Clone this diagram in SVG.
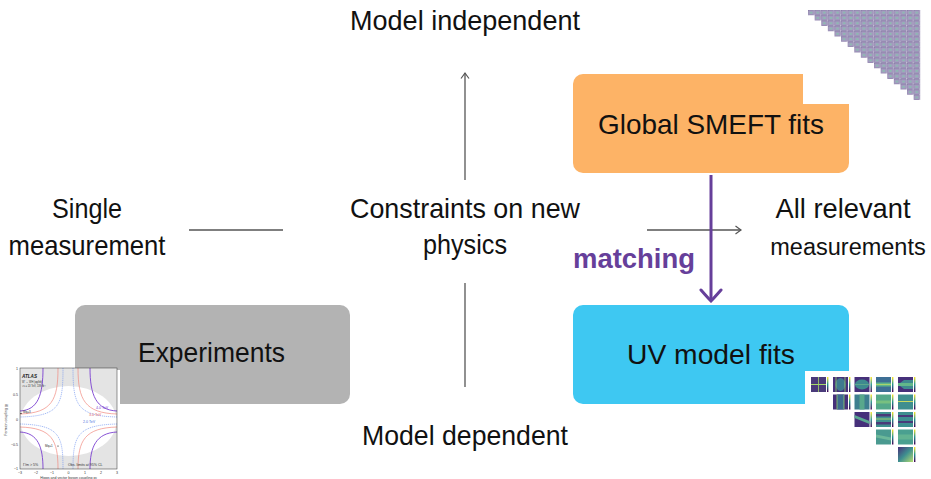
<svg xmlns="http://www.w3.org/2000/svg" width="931" height="479" viewBox="0 0 931 479">
<style>
.t{font-family:"Liberation Sans",Arial,sans-serif;font-size:28px;fill:#111;text-anchor:middle}
.m{font-family:"Liberation Sans",Arial,sans-serif;font-size:27.5px;font-weight:bold;fill:#663f9a}
.gl{stroke:#555;stroke-width:1.3;fill:none}
.s{font-family:"Liberation Sans",Arial,sans-serif;font-size:3.6px;fill:#333}
</style>
<defs>
<marker id="ah" viewBox="-7 -6 9 12" markerWidth="9" markerHeight="12" refX="0" refY="0" orient="auto" markerUnits="userSpaceOnUse">
<path d="M-5.5,-4 Q-1.5,-1 0,0 Q-1.5,1 -5.5,4" fill="none" stroke="#555" stroke-width="1.2"/>
</marker>
<marker id="ph" viewBox="-14 -13 16 26" markerWidth="16" markerHeight="26" refX="0" refY="0" orient="auto" markerUnits="userSpaceOnUse">
<path d="M-11,-10 Q-3,-3 0,0 Q-3,3 -11,10" fill="none" stroke="#663f9a" stroke-width="3" stroke-linecap="round"/>
</marker>
<pattern id="tri" patternUnits="userSpaceOnUse" x="808" y="10" width="6.6" height="5.3">
<rect x="0.5" y="0.4" width="5.4" height="4.5" fill="#a49cc0" stroke="#7d6fa0" stroke-width="0.6"/>
<rect x="2.1" y="1.7" width="2.2" height="1.9" fill="#8cbcb0"/>
</pattern>
<linearGradient id="cb" x1="0" y1="1" x2="0" y2="0">
<stop offset="0" stop-color="#440154"/><stop offset="0.5" stop-color="#21918c"/><stop offset="1" stop-color="#fde725"/>
</linearGradient>
<linearGradient id="g44" x1="0" y1="0" x2="1" y2="1">
<stop offset="0" stop-color="#46307a"/><stop offset="0.5" stop-color="#3f8f90"/><stop offset="1" stop-color="#b5dd70"/>
</linearGradient>
<clipPath id="pc"><rect x="20" y="368" width="97" height="101"/></clipPath>
</defs>

<g id="experiments">
<rect x="75" y="305" width="275" height="99" rx="10" fill="#b3b3b3"/>
<text class="t" x="211.5" y="362" textLength="147" lengthAdjust="spacingAndGlyphs">Experiments</text>
</g>

<g id="smeft">
<rect x="573" y="74" width="276" height="99" rx="10" fill="#fdb366"/>
<text class="t" x="711" y="134" textLength="226" lengthAdjust="spacingAndGlyphs">Global SMEFT fits</text>
</g>

<g id="uvfits">
<rect x="573" y="305" width="276" height="99" rx="10" fill="#3ec8f2"/>
<text class="t" x="711" y="364" textLength="168" lengthAdjust="spacingAndGlyphs">UV model fits</text>
</g>

<g id="connectors">
<line class="gl" x1="465" y1="180" x2="465" y2="73" marker-end="url(#ah)"/>
<line class="gl" x1="465" y1="283" x2="465" y2="387"/>
<line class="gl" x1="189" y1="230" x2="283" y2="230"/>
<line class="gl" x1="647" y1="230" x2="741" y2="230" marker-end="url(#ah)"/>
<line x1="711" y1="175" x2="711" y2="301" stroke="#663f9a" stroke-width="3" marker-end="url(#ph)"/>
<text class="m" x="573" y="268" textLength="122" lengthAdjust="spacingAndGlyphs">matching</text>
</g>

<g id="labels">
<text class="t" x="465" y="30" textLength="230" lengthAdjust="spacingAndGlyphs">Model independent</text>
<text class="t" x="465" y="445" textLength="206" lengthAdjust="spacingAndGlyphs">Model dependent</text>
<text class="t" x="87" y="218" textLength="70" lengthAdjust="spacingAndGlyphs">Single</text>
<text class="t" x="87" y="255" textLength="157" lengthAdjust="spacingAndGlyphs">measurement</text>
<text class="t" x="465" y="218" textLength="230" lengthAdjust="spacingAndGlyphs">Constraints on new</text>
<text class="t" x="465" y="254" textLength="84" lengthAdjust="spacingAndGlyphs">physics</text>
<text class="t" x="843" y="218" textLength="135" lengthAdjust="spacingAndGlyphs">All relevant</text>
<text class="t" x="848" y="255" style="font-size:23.5px">measurements</text>
</g>

<g id="triangle-matrix">
<rect x="803" y="0" width="128" height="104" fill="#fff"/>
<path d="M808,10 H920.2 V100.1 H913.6 V94.8 H907 V89.5 H900.4 V84.2 H893.8 V78.9 H887.2 V73.6 H880.6 V68.3 H874 V63 H867.4 V57.7 H860.8 V52.4 H854.2 V47.1 H847.6 V41.8 H841 V36.5 H834.4 V31.2 H827.8 V25.9 H821.2 V20.6 H814.6 V15.3 H808 Z" fill="url(#tri)"/>
</g>

<g id="limit-plot">
<rect x="0" y="370" width="120" height="109" fill="#fff"/>
<rect x="20" y="368" width="97" height="101" fill="#e4e4e4"/>
<ellipse cx="68.5" cy="421" rx="48" ry="35" fill="#fff" clip-path="url(#pc)"/>
<g clip-path="url(#pc)" fill="none">
<g stroke="#7b3fd0" stroke-width="0.9">
<path d="M43,368 C43,395 38,410 20,411"/><path d="M90,368 C90,395 96,410 117,411"/>
<path d="M20,432 C38,433 43,447 43,469"/><path d="M117,432 C96,433 90,447 90,469"/>
</g>
<g stroke="#f08a80" stroke-width="0.7">
<path d="M58,368 C58,400 52,413 20,414"/><path d="M78,368 C78,400 85,413 117,414"/>
<path d="M20,427 C52,428 58,440 58,469"/><path d="M117,427 C85,428 78,440 78,469"/>
</g>
<g stroke="#6a8ff0" stroke-width="0.6" stroke-dasharray="1.2,0.8">
<path d="M63,368 C63,405 60,416 20,417"/><path d="M73,368 C73,405 77,416 117,417"/>
<path d="M20,424 C60,425 63,436 63,469"/><path d="M117,424 C77,425 73,436 73,469"/>
</g>
</g>
<rect x="20" y="368" width="97" height="101" fill="none" stroke="#333" stroke-width="0.5"/>
<text x="22" y="378" font-family="Liberation Sans,Arial,sans-serif" font-size="4.6" font-weight="bold" font-style="italic" fill="#222">ATLAS</text>
<text class="s" x="22" y="383" style="font-size:2.6px">W' → WH (qq/bb)</text>
<text class="s" x="22" y="387" style="font-size:2.6px">√s = 13 TeV, 139 fb⁻¹</text>
<text class="s" x="96" y="409" style="fill:#7b3fd0">4.0 TeV</text>
<text class="s" x="89" y="416" style="fill:#e06060">3.0 TeV</text>
<text class="s" x="83" y="423" style="fill:#4a6fe0">2.0 TeV</text>
<text class="s" x="23" y="413" style="font-size:3px">Mq=3</text>
<circle cx="21" cy="413.5" r="0.6" fill="#000"/>
<text class="s" x="45" y="447" style="font-size:3px">Mq=1</text>
<circle cx="58" cy="446" r="0.6" fill="#000"/>
<text class="s" x="23" y="466">Γ/m &gt; 5%</text>
<text class="s" x="68" y="466">Obs. limits at 95% CL</text>
<g class="s" text-anchor="end">
<text x="18" y="370">1</text><text x="18" y="396">0.5</text><text x="18" y="421">0</text><text x="18" y="446">−0.5</text><text x="18" y="470">−1</text>
</g>
<g class="s" text-anchor="middle">
<text x="20" y="474">−3</text><text x="36" y="474">−2</text><text x="52" y="474">−1</text><text x="68.5" y="474">0</text><text x="85" y="474">1</text><text x="101" y="474">2</text><text x="117" y="474">3</text>
</g>
<text class="s" x="68.5" y="478.5" text-anchor="middle">Higgs and vector boson coupling g<tspan style="font-size:2.6px" dy="0.8">v</tspan></text>
<text class="s" x="7" y="420" text-anchor="middle" transform="rotate(-90 7 420)">Fermion coupling g<tspan style="font-size:2.6px" dy="0.8">f</tspan></text>
</g>

<g id="fit-grid">
<rect x="805" y="371" width="126" height="108" fill="#fff"/>
<g transform="translate(811,377)">
<rect width="15" height="15" fill="#4a3a7a"/><line x1="0" y1="7.5" x2="15" y2="7.5" stroke="#a6d86a" stroke-width="1"/><line x1="7.5" y1="0" x2="7.5" y2="15" stroke="#a6d86a" stroke-width="0.8"/><rect x="16" width="1.4" height="15" fill="url(#cb)"/>
</g>
<g transform="translate(833,377)">
<rect width="15" height="15" fill="#46307a"/><ellipse cx="7.5" cy="7.5" rx="5" ry="6.5" fill="#3f7a8f"/><line x1="3" y1="0" x2="3" y2="15" stroke="#8fd36a" stroke-width="0.8"/><line x1="12" y1="0" x2="12" y2="15" stroke="#8fd36a" stroke-width="0.8"/><rect x="16" width="1.4" height="15" fill="url(#cb)"/>
</g>
<g transform="translate(854.5,377)">
<rect width="15" height="15" fill="#46307a"/><ellipse cx="7.5" cy="7.5" rx="7" ry="5" fill="#3e8a8f"/><line x1="0" y1="7.5" x2="15" y2="7.5" stroke="#6fb88a" stroke-width="0.6"/><rect x="16" width="1.4" height="15" fill="url(#cb)"/>
</g>
<g transform="translate(876,377)">
<rect width="15" height="15" fill="#3e6f95"/><rect y="5.5" width="15" height="4" fill="#5fb58a"/><line x1="0" y1="7.5" x2="15" y2="7.5" stroke="#c8e060" stroke-width="0.7"/><rect x="16" width="1.4" height="15" fill="url(#cb)"/>
</g>
<g transform="translate(898,377)">
<rect width="15" height="15" fill="#46307a"/><path d="M0,7.5 L6,3 H15 V12 H6 Z" fill="#3f8a90"/><rect y="6" width="15" height="3" fill="#62b88a"/><rect x="16" width="1.4" height="15" fill="url(#cb)"/>
</g>
<g transform="translate(833,394.5)">
<rect width="15" height="15" fill="#46307a"/><rect x="4" width="7" height="15" fill="#3e6a8f"/><line x1="4" y1="0" x2="4" y2="15" stroke="#8fd36a" stroke-width="0.8"/><line x1="11" y1="0" x2="11" y2="15" stroke="#8fd36a" stroke-width="0.8"/><rect x="16" width="1.4" height="15" fill="url(#cb)"/>
</g>
<g transform="translate(854.5,394.5)">
<rect width="15" height="15" fill="#3e7f8f"/><rect x="5" width="5" height="15" fill="#58a88c"/><rect x="16" width="1.4" height="15" fill="url(#cb)"/>
</g>
<g transform="translate(876,394.5)">
<rect width="15" height="15" fill="#55a98a"/><rect y="6" width="15" height="3" fill="#78c080"/><rect x="16" width="1.4" height="15" fill="url(#cb)"/>
</g>
<g transform="translate(898,394.5)">
<rect width="15" height="15" fill="#3f8f8f"/><line x1="0" y1="7" x2="15" y2="7" stroke="#d8e25a" stroke-width="0.9"/><rect x="16" width="1.4" height="15" fill="url(#cb)"/>
</g>
<g transform="translate(854.5,412)">
<rect width="15" height="15" fill="#46307a"/><path d="M0,3 L15,9 V12 L0,6 Z" fill="#5aa892"/><rect x="16" width="1.4" height="15" fill="url(#cb)"/>
</g>
<g transform="translate(876,412)">
<rect width="15" height="15" fill="#3f8f8f"/><rect y="2" width="15" height="2.5" fill="#4a3a7a"/><rect y="10" width="15" height="2.5" fill="#4a3a7a"/><line x1="0" y1="7" x2="15" y2="7" stroke="#b8dc66" stroke-width="0.8"/><rect x="16" width="1.4" height="15" fill="url(#cb)"/>
</g>
<g transform="translate(898,412)">
<rect width="15" height="15" fill="#3e8f90"/><rect y="3" width="15" height="2" fill="#4a3a7a"/><rect y="9" width="15" height="2" fill="#4a3a7a"/><rect x="16" width="1.4" height="15" fill="url(#cb)"/>
</g>
<g transform="translate(876,429.5)">
<rect width="15" height="15" fill="#4a9a90"/><path d="M0,5 L15,8 V11 L0,8 Z" fill="#6cb89a"/><rect x="16" width="1.4" height="15" fill="url(#cb)"/>
</g>
<g transform="translate(898,429.5)">
<rect width="15" height="15" fill="#4aa090"/><rect y="5" width="15" height="5" fill="#62b392"/><rect x="16" width="1.4" height="15" fill="url(#cb)"/>
</g>
<g transform="translate(898,447)">
<rect width="15" height="15" fill="url(#g44)"/><rect x="16" width="1.4" height="15" fill="url(#cb)"/>
</g>
</g>
</svg>
